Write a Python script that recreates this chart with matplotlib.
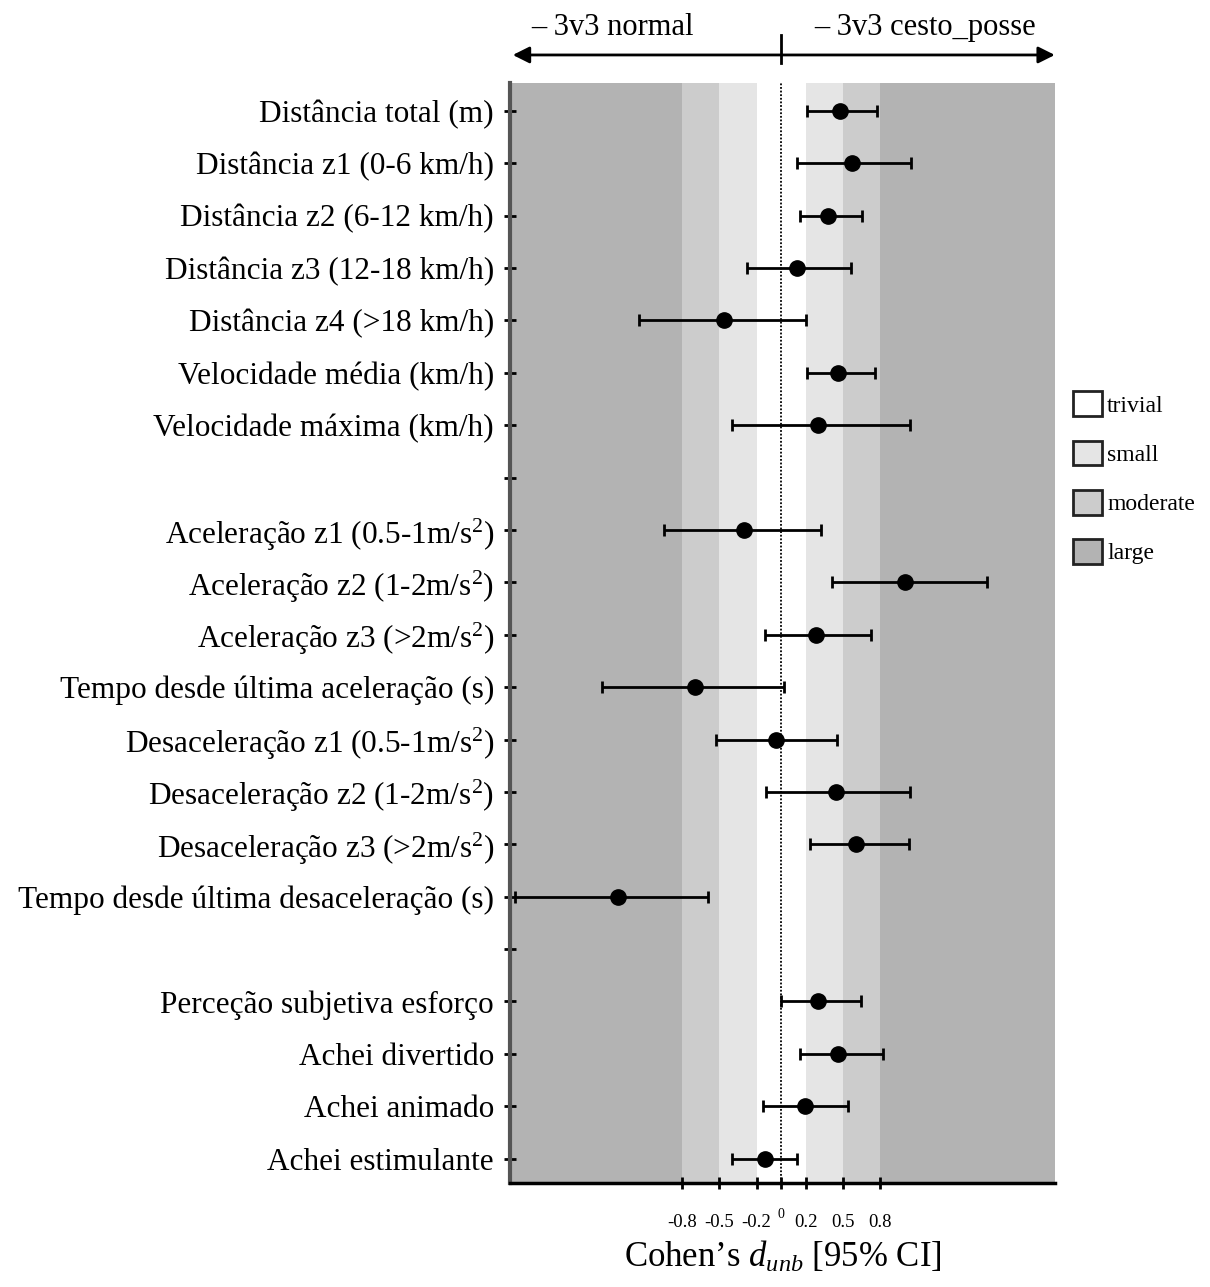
import matplotlib
matplotlib.use('Agg')
import matplotlib.pyplot as plt
from matplotlib.patches import Patch
from matplotlib.transforms import ScaledTranslation

plt.rcParams['font.family'] = ['Liberation Serif', 'DejaVu Serif']
plt.rcParams['mathtext.fontset'] = 'custom'
plt.rcParams['mathtext.rm'] = 'Liberation Serif'
plt.rcParams['mathtext.it'] = 'Liberation Serif:italic'

# variables, top to bottom ('' = empty separator row)
labels = ['Distância total (m)', 'Distância z1 (0-6 km/h)', 'Distância z2 (6-12 km/h)',
          'Distância z3 (12-18 km/h)', 'Distância z4 (>18 km/h)', 'Velocidade média (km/h)',
          'Velocidade máxima (km/h)', '',
          'Aceleração z1 (0.5-1m/s$^2$)', 'Aceleração z2 (1-2m/s$^2$)', 'Aceleração z3 (>2m/s$^2$)',
          'Tempo desde última aceleração (s)', 'Desaceleração z1 (0.5-1m/s$^2$)',
          'Desaceleração z2 (1-2m/s$^2$)', 'Desaceleração z3 (>2m/s$^2$)',
          'Tempo desde última desaceleração (s)', '',
          'Perceção subjetiva esforço', 'Achei divertido', 'Achei animado', 'Achei estimulante']

d_est = [0.47, 0.57, 0.38, 0.13, -0.46, 0.46, 0.30, None,
         -0.30, 1.00, 0.28, -0.70, -0.04, 0.44, 0.60, -1.32, None,
         0.30, 0.46, 0.19, -0.13]
ci_lo = [0.21, 0.13, 0.15, -0.28, -1.15, 0.21, -0.40, None,
         -0.95, 0.41, -0.13, -1.45, -0.53, -0.12, 0.23, -2.15, None,
         0.00, 0.15, -0.15, -0.40]
ci_hi = [0.77, 1.05, 0.65, 0.56, 0.20, 0.76, 1.04, None,
         0.32, 1.66, 0.72, 0.02, 0.45, 1.04, 1.03, -0.59, None,
         0.64, 0.82, 0.54, 0.13]

tick_vals = [-0.8, -0.5, -0.2, 0, 0.2, 0.5, 0.8]
tick_txt = ['-0.8', '-0.5', '-0.2', '0', '0.2', '0.5', '0.8']

# magnitude bands (from, to, colour)
band_names = ['trivial', 'small', 'moderate', 'large']
band_cols = ['#ffffff', '#e5e5e5', '#cccccc', '#b3b3b3']
band_edges = [0.2, 0.5, 0.8, 2.21]

xmin, xmax = -2.19, 2.21

fig = plt.figure(figsize=(12.1, 12.87), dpi=100)
ax = fig.add_axes([0.4215, 0.081, 0.4505, 0.8545])

lo = 0
for edge, col in zip(band_edges, band_cols):
    ax.axvspan(lo, edge, color=col, lw=0, zorder=0)
    ax.axvspan(-edge, -lo, color=col, lw=0, zorder=0)
    lo = edge

ax.axvline(0, color='black', ls=(0, (1, 1)), lw=1.3, zorder=1)

ypos = list(range(1, len(labels) + 1))
for y, m, l, h in zip(ypos, d_est, ci_lo, ci_hi):
    if m is None:
        continue
    ax.errorbar(m, y, xerr=[[m - l], [h - m]], fmt='o', color='black', ms=11,
                elinewidth=2, capsize=4, capthick=2, zorder=3)

ax.set_xlim(xmin, xmax)
ax.set_ylim(21.46, 0.47)
ax.set_yticks(ypos)
ax.set_yticklabels(labels, fontsize=22.5)
ax.set_xticks(tick_vals)
ax.set_xticklabels(tick_txt, fontsize=13.5)
ax.tick_params(axis='y', direction='inout', length=9, width=2, pad=7)
ax.tick_params(axis='x', direction='inout', length=9, width=2, pad=18)

for s in ['top', 'right']:
    ax.spines[s].set_visible(False)
ax.spines['left'].set_color('#555555')
ax.spines['left'].set_linewidth(3)
ax.spines['bottom'].set_linewidth(2.5)

# the '0' label sits smaller and a little higher
zl = ax.get_xticklabels()[3]
zl.set_fontsize(10)
zl.set_transform(zl.get_transform() + ScaledTranslation(0, 4 / 72, fig.dpi_scale_trans))

ax.set_xlabel('Cohen’s $d_{unb}$ [95% CI]', fontsize=25, labelpad=6)

# direction arrow above the plot
trans = ax.get_xaxis_transform()
ax.annotate('', xy=(xmin, 1.0255), xytext=(xmax + 0.02, 1.0255), xycoords=trans,
            textcoords=trans, annotation_clip=False,
            arrowprops=dict(arrowstyle='<|-|>', color='black', lw=2, mutation_scale=25))
ax.plot([0, 0], [1.018, 1.044], transform=trans, color='black', lw=2, clip_on=False)
ax.text(-1.36, 1.037, '– 3v3 normal', transform=trans, fontsize=22, ha='center', va='bottom')
ax.text(1.16, 1.037, '– 3v3 cesto_posse', transform=trans, fontsize=22, ha='center', va='bottom')

handles = [Patch(facecolor=c, edgecolor='#222222', lw=2) for c in band_cols]
fig.legend(handles, band_names, loc='upper left', bbox_to_anchor=(0.877, 0.705),
           frameon=False, fontsize=17, handlelength=1.25, handleheight=1.25,
           handletextpad=0.2, labelspacing=1.0, borderpad=0)

fig.savefig('out.png', dpi=100)
